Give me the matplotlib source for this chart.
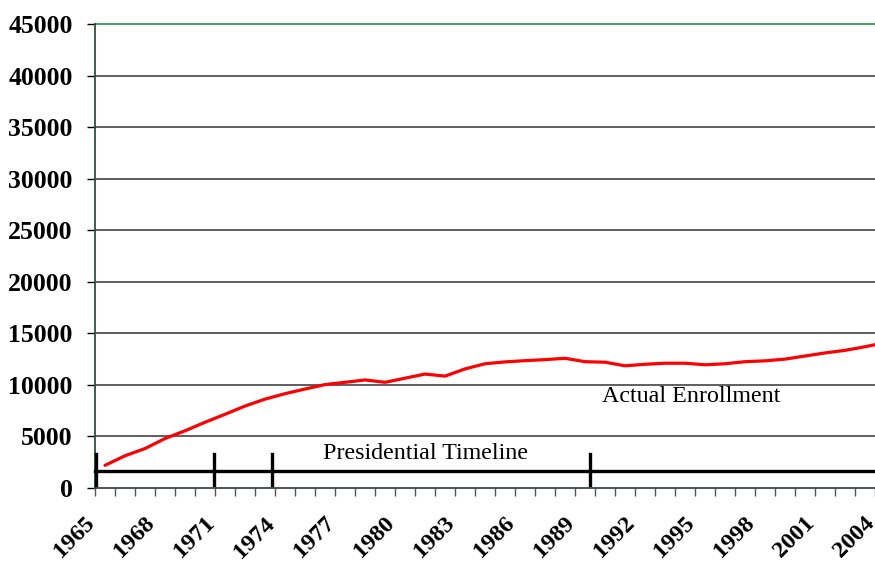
import numpy as np
import matplotlib
matplotlib.use("Agg")
import matplotlib.pyplot as plt
import matplotlib.transforms as mtransforms
from matplotlib.ticker import MultipleLocator

plt.rcParams["font.family"] = ["Liberation Serif", "DejaVu Serif"]

# enrollment per year
years = list(range(1965, 2005))
enrollment = [2200, 3130, 3830, 4800, 5550, 6380, 7150, 7950, 8620, 9150,
              9600, 10030, 10250, 10480, 10250, 10650, 11050, 10850, 11550, 12050,
              12230, 12350, 12450, 12580, 12250, 12200, 11850, 12000, 12100, 12100,
              11950, 12050, 12250, 12330, 12500, 12800, 13100, 13350, 13700, 14100]

# presidential timeline
timeline_level = 1650
timeline_marks = [1965.05, 1970.95, 1973.85, 1989.75]

year_labels = [str(y) for y in range(1965, 2005, 3)]
y_ticks = list(range(0, 45001, 5000))

start = 1965
# category axis: each point sits in the middle of its year slot
xpos = np.array(years) - start + 0.5

fig = plt.figure(figsize=(8.75, 5.63), dpi=100)
ax = fig.add_axes([0.1086, 0.1332, 0.8914, 0.8242])

ax.set_xlim(0, 39)
ax.set_ylim(0, 45000)

for v in y_ticks[1:-1]:
    ax.axhline(v, color="#333333", lw=1.1, zorder=1)
ax.axhline(45000, color="#2e9a5c", lw=1.3, zorder=1, clip_on=False)

ax.plot(xpos, enrollment, color="#ff0000", lw=2.3, zorder=3,
        solid_joinstyle="round", solid_capstyle="round")

# timeline bar and markers
ax.plot([0, 39], [timeline_level, timeline_level], color="black", lw=2.4, zorder=4,
        clip_on=False)
for m in timeline_marks:
    ax.plot([m - start, m - start], [320, 3300], color="black", lw=2.4, zorder=4,
            clip_on=False)

ax.text(16.5, 3300, "Presidential Timeline", fontsize=17.3, ha="center",
        va="center", zorder=5)
ax.text(29.8, 8840, "Actual Enrollment", fontsize=17.3, ha="center",
        va="center", zorder=5)

ax.set_yticks(y_ticks)
ax.set_yticklabels([str(v) for v in y_ticks], fontsize=18.5, fontweight="bold")
ax.set_xticks(np.arange(0, 40, 3))
ax.set_xticklabels(year_labels, fontsize=17.5, fontweight="bold", rotation=45,
                   ha="right", va="baseline", rotation_mode="anchor")
shift = mtransforms.ScaledTranslation(-4 / 100, 0, fig.dpi_scale_trans)
for lbl in ax.get_xticklabels():
    lbl.set_transform(lbl.get_transform() + shift)
ax.xaxis.set_minor_locator(MultipleLocator(1))
ax.tick_params(axis="x", which="both", direction="out", length=6, width=1,
               color="#555555", pad=20)
ax.tick_params(axis="y", direction="out", length=6, width=1, color="black", pad=10)

for side in ["top", "right"]:
    ax.spines[side].set_visible(False)
ax.spines["left"].set_color("#2f4f3f")
ax.spines["left"].set_linewidth(1.3)
ax.spines["bottom"].set_color("#3a4a40")
ax.spines["bottom"].set_linewidth(1.3)

fig.savefig("out.png", dpi=100)
